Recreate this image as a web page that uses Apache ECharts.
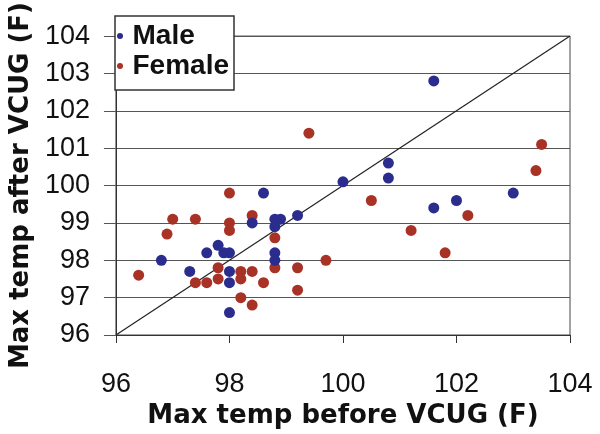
<!DOCTYPE html>
<html>
<head>
<meta charset="utf-8">
<script src="https://cdn.jsdelivr.net/npm/echarts@6/dist/echarts.min.js"></script>
<style>html,body{margin:0;padding:0;background:#fff}#c{width:600px;height:434px}</style>
</head>
<body>
<div id="c"></div>
<script>
// Max temp before VCUG (x) and after VCUG (y), degrees F
const maleBefore = [96.8, 97.3, 97.6, 97.8, 97.9, 98.0, 98.0, 98.0, 98.0, 98.4, 98.6, 98.8, 98.9, 98.8, 99.2, 98.8, 98.8, 100.0, 100.8, 100.8, 101.6, 101.6, 102.0, 103.0];
const maleAfter  = [98.0, 97.7, 98.2, 98.4, 98.2, 98.2, 97.7, 97.4, 96.6, 99.0, 99.8, 99.1, 99.1, 98.9, 99.2, 98.2, 98.0, 100.1, 100.6, 100.2, 102.8, 99.4, 99.6, 99.8];
const femaleBefore = [96.4, 96.9, 97.0, 97.4, 97.4, 97.6, 97.8, 97.8, 98.0, 98.0, 98.0, 98.2, 98.2, 98.2, 98.4, 98.4, 98.4, 98.6, 98.8, 98.8, 99.2, 99.2, 99.4, 99.7, 100.5, 101.2, 101.8, 102.2, 103.4, 103.5];
const femaleAfter  = [97.6, 98.7, 99.1, 99.1, 97.4, 97.4, 97.5, 97.8, 99.8, 99.0, 98.8, 97.7, 97.5, 97.0, 99.2, 97.7, 96.8, 97.4, 98.6, 97.8, 97.8, 97.2, 101.4, 98.0, 99.6, 98.8, 98.2, 99.2, 100.4, 101.1];
const identityLine = [[96, 96], [104, 104]];
const seriesNames = ['Male', 'Female'];
const xTitle = 'Max temp before VCUG (F)';
const yTitle = 'Max temp after VCUG (F)';

const zip = (a, b) => a.map((v, i) => [v, b[i]]);
const chart = echarts.init(document.getElementById('c'), null, {renderer: 'canvas'});
const tickFont = {fontFamily: 'Liberation Sans', fontSize: 27, color: '#111'};
const titleFont = {fontFamily: 'DejaVu Sans', fontWeight: 'bold', fontSize: 26, color: '#111'};
chart.setOption({
  animation: false,
  backgroundColor: '#fff',
  grid: {left: 112, right: 30, top: 14, bottom: 97, show: true, borderColor: '#444', borderWidth: 1, backgroundColor: '#fff'},
  legend: {
    data: seriesNames,
    orient: 'vertical',
    left: 115, top: 16,
    padding: [6, 5, 10, 2],
    itemWidth: 15, itemHeight: 6, itemGap: 2,
    icon: 'circle',
    borderColor: '#333', borderWidth: 1.5,
    backgroundColor: '#fff',
    textStyle: {fontFamily: 'Liberation Sans', fontWeight: 'bold', fontSize: 28, lineHeight: 26, color: '#111', padding: [0, 0, 0, 0]}
  },
  xAxis: {
    type: 'value', min: 96, max: 104, interval: 2,
    name: xTitle, nameLocation: 'middle', nameGap: 68,
    nameTextStyle: titleFont,
    axisLine: {lineStyle: {color: '#333', width: 1}},
    axisTick: {show: true, inside: false, length: 8, lineStyle: {color: '#333'}},
    axisLabel: Object.assign({margin: 36}, tickFont),
    splitLine: {show: false}
  },
  yAxis: {
    type: 'value', min: 96, max: 104, interval: 1,
    name: yTitle, nameLocation: 'middle', nameGap: 80,
    nameTextStyle: titleFont,
    axisLine: {lineStyle: {color: '#333', width: 1}},
    axisTick: {show: true, inside: false, length: 12, lineStyle: {color: '#555'}},
    axisLabel: Object.assign({margin: 26}, tickFont),
    splitLine: {show: true, lineStyle: {color: '#555', width: 1}}
  },
  series: [
    {type: 'line', data: identityLine, showSymbol: false, symbol: 'none', lineStyle: {color: '#222', width: 1.2}, silent: true, z: 1},
    {name: seriesNames[0], type: 'scatter', data: zip(maleBefore, maleAfter), symbolSize: 11, itemStyle: {color: '#2b2d8e', opacity: 1}, z: 3},
    {name: seriesNames[1], type: 'scatter', data: zip(femaleBefore, femaleAfter), symbolSize: 11, itemStyle: {color: '#a83226', opacity: 1}, z: 2}
  ]
});
</script>
</body>
</html>
